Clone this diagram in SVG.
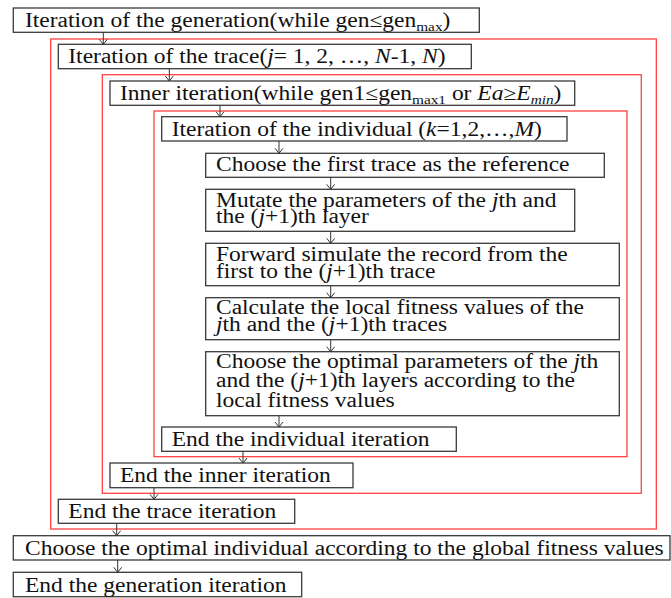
<svg xmlns="http://www.w3.org/2000/svg" width="671" height="598" viewBox="0 0 671 598">
<defs>
<marker id="ah" markerUnits="userSpaceOnUse" viewBox="-6 -5 7 10" markerWidth="7" markerHeight="10" refX="0" refY="0" orient="auto">
<path d="M-5,-4 L0,0 L-5,4" fill="none" stroke="#333" stroke-width="1"/>
</marker>
<style>
.box{fill:#fff;stroke:#3a3a3a;stroke-width:1.3}
.red{fill:none;stroke:#ff4040;stroke-width:1.3}
text{font-family:"Liberation Serif","Times New Roman",serif;font-size:20px;fill:#111}
.i{font-style:italic}
.sub{font-size:13px}
#connectors line{stroke:#333;stroke-width:1;marker-end:url(#ah)}
</style>
</defs>
<rect width="671" height="598" fill="#fff"/>
<g id="loops">
<rect id="loop-trace" class="red" x="50.7" y="39" width="605.6" height="490"/>
<rect id="loop-inner" class="red" x="102.3" y="74.7" width="539" height="418.6"/>
<rect id="loop-individual" class="red" x="154" y="111" width="473" height="345.7"/>
</g>
<g id="n1"><rect class="box" x="13.3" y="8" width="466" height="24.3"/>
<text transform="translate(25 27) scale(1.175 1)">Iteration of the generation(while gen≤gen<tspan class="sub" dy="4">max</tspan><tspan dy="-4">)</tspan></text></g>
<g id="n2"><rect class="box" x="58.3" y="44.3" width="413" height="24.4"/>
<text transform="translate(68.3 63.3) scale(1.175 1)">Iteration of the trace(<tspan class="i">j</tspan>= 1, 2, …, <tspan class="i">N</tspan>-1, <tspan class="i">N</tspan>)</text></g>
<g id="n3"><rect class="box" x="110" y="81" width="464.7" height="24.3"/>
<text transform="translate(120 99.5) scale(1.175 1)">Inner iteration(while gen1≤gen<tspan class="sub" dy="4">max1</tspan><tspan dy="-4"> or </tspan><tspan class="i">Ea</tspan>≥<tspan class="i">E</tspan><tspan class="sub i" dy="4">min</tspan><tspan dy="-4">)</tspan></text></g>
<g id="n4"><rect class="box" x="161.7" y="116.7" width="405.3" height="24.3"/>
<text transform="translate(171.7 136) scale(1.175 1)">Iteration of the individual (<tspan class="i">k</tspan>=1,2,…,<tspan class="i">M</tspan>)</text></g>
<g id="n5"><rect class="box" x="205.7" y="153.3" width="398.6" height="24"/>
<text transform="translate(216 171) scale(1.175 1)">Choose the first trace as the reference</text></g>
<g id="n6"><rect class="box" x="205.7" y="189.3" width="369" height="42"/>
<text transform="translate(216 206.7) scale(1.175 1)">Mutate the parameters of the <tspan class="i">j</tspan>th and</text>
<text transform="translate(216 222.5) scale(1.175 1)">the (<tspan class="i">j</tspan>+1)th layer</text></g>
<g id="n7"><rect class="box" x="205.7" y="243.3" width="413.6" height="42.4"/>
<text transform="translate(216 260.5) scale(1.175 1)">Forward simulate the record from the</text>
<text transform="translate(216 278) scale(1.175 1)">first to the (<tspan class="i">j</tspan>+1)th trace</text></g>
<g id="n8"><rect class="box" x="205.7" y="297.7" width="413.6" height="42"/>
<text transform="translate(216 313.5) scale(1.175 1)">Calculate the local fitness values of the</text>
<text transform="translate(216 331) scale(1.175 1)"><tspan class="i">j</tspan>th and the (<tspan class="i">j</tspan>+1)th traces</text></g>
<g id="n9"><rect class="box" x="205.7" y="351.7" width="413.6" height="64"/>
<text transform="translate(216 367.5) scale(1.175 1)">Choose the optimal parameters of the <tspan class="i">j</tspan>th</text>
<text transform="translate(216 387) scale(1.175 1)">and the (<tspan class="i">j</tspan>+1)th layers according to the</text>
<text transform="translate(216 406.5) scale(1.175 1)">local fitness values</text></g>
<g id="n10"><rect class="box" x="161.7" y="427" width="294.6" height="24.3"/>
<text transform="translate(171.7 445.7) scale(1.175 1)">End the individual iteration</text></g>
<g id="n11"><rect class="box" x="110" y="463" width="243" height="24.7"/>
<text transform="translate(120 481.7) scale(1.175 1)">End the inner iteration</text></g>
<g id="n12"><rect class="box" x="58.3" y="499.3" width="236.4" height="24"/>
<text transform="translate(68.3 518) scale(1.175 1)">End the trace iteration</text></g>
<g id="n13"><rect class="box" x="13.3" y="535.7" width="656.7" height="24.3"/>
<text transform="translate(25 555) scale(1.175 1)">Choose the optimal individual according to the global fitness values</text></g>
<g id="n14"><rect class="box" x="13.3" y="572.3" width="288.4" height="24.4"/>
<text transform="translate(25 591.7) scale(1.175 1)">End the generation iteration</text></g>
<g id="connectors">
<line x1="103.3" y1="32.3" x2="103.3" y2="44.3"/>
<line x1="169.3" y1="68.7" x2="169.3" y2="81"/>
<line x1="220" y1="105.3" x2="220" y2="116.7"/>
<line x1="279" y1="141" x2="279" y2="153.3"/>
<line x1="330.7" y1="177.3" x2="330.7" y2="189.3"/>
<line x1="330.7" y1="231.3" x2="330.7" y2="243.3"/>
<line x1="330.7" y1="285.7" x2="330.7" y2="297.7"/>
<line x1="330.7" y1="339.7" x2="330.7" y2="351.7"/>
<line x1="279" y1="415.7" x2="279" y2="427"/>
<line x1="243" y1="451.3" x2="243" y2="463"/>
<line x1="154" y1="487.7" x2="154" y2="499.3"/>
<line x1="116.7" y1="523.3" x2="116.7" y2="535.7"/>
<line x1="117.7" y1="560" x2="117.7" y2="572.3"/>
</g>
</svg>
